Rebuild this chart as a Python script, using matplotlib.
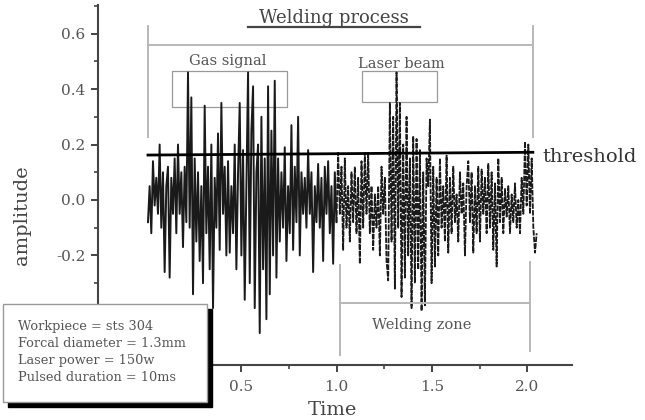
import numpy as np
import matplotlib
matplotlib.use('Agg')
import matplotlib.pyplot as plt
from matplotlib.patches import Rectangle
from matplotlib.ticker import MultipleLocator

plt.rcParams['font.family'] = ['DejaVu Serif']

# signal amplitude (peaks and troughs, left to right)
amplitude = [
    -0.08, 0.05, -0.12, 0.14, -0.02, 0.08,
    -0.05, 0.20, -0.10, 0.10, -0.26, 0.05,
    0.12, -0.28, 0.08, -0.05, 0.15, -0.12,
    0.20, -0.05, 0.10, -0.17, 0.12, -0.08,
    0.46, -0.10, 0.37, -0.34, 0.15, -0.15,
    0.10, -0.22, 0.05, -0.30, 0.34, -0.12,
    0.12, -0.25, 0.20, -0.39, 0.08, -0.10,
    0.24, -0.18, 0.35, -0.05, 0.12, -0.20,
    0.14, -0.19, 0.05, -0.12, 0.20, -0.25,
    0.10, 0.35, -0.20, 0.18, -0.36, 0.05,
    0.46, -0.30, 0.25, 0.41, -0.39, 0.10,
    0.20, -0.48, 0.30, -0.25, 0.15, -0.43,
    0.41, -0.34, 0.25, -0.20, 0.43, -0.28,
    0.15, -0.15, 0.10, -0.10, 0.19, -0.22,
    0.05, -0.12, 0.27, -0.18, 0.12, -0.08,
    0.30, -0.20, 0.10, -0.05, 0.08, -0.10,
    0.18, -0.05, 0.10, -0.26, 0.05, -0.08,
    0.13, -0.10, 0.08, -0.22, 0.12, -0.05,
    0.14, -0.12, 0.05, -0.23, 0.10, -0.08,
    0.17, -0.05, 0.12, -0.18, 0.15, -0.10,
    0.05, -0.15, 0.10, -0.08, 0.12, -0.12,
    0.08, -0.23, 0.14, -0.10, 0.17, -0.05,
    0.17, -0.12, 0.05, -0.18, 0.02, -0.10,
    0.05, -0.20, 0.12, -0.05, 0.08, -0.22,
    -0.29, 0.35, -0.15, 0.30, -0.32, 0.46,
    -0.10, 0.35, -0.35, 0.20, -0.28, 0.30,
    -0.20, 0.15, -0.39, 0.23, -0.30, 0.22,
    -0.25, 0.18, -0.40, 0.10, -0.38, 0.15,
    0.05, 0.29, -0.30, 0.12, -0.24, 0.08,
    -0.20, 0.15, -0.10, 0.05, -0.15, 0.16,
    -0.19, 0.08, -0.12, 0.12, -0.08, 0.02,
    -0.15, 0.10, -0.05, 0.06, -0.20, 0.05,
    0.14, -0.08, 0.10, -0.19, 0.05, -0.12,
    0.12, -0.15, 0.11, -0.05, 0.08, -0.12,
    0.13, -0.10, 0.10, -0.18, 0.06, -0.24,
    0.15, -0.08, 0.08, -0.12, 0.04, -0.06,
    0.05, -0.12, 0.02, -0.08, 0.06, -0.10,
    0.00, -0.12, 0.08, -0.05, 0.21, -0.02,
    0.20, -0.05, 0.15, -0.10, -0.19, -0.12,
]
t_start, t_end = 0.01, 2.05
threshold_t = [0.01, 2.03]
threshold_v = [0.162, 0.172]

xticks = [0.0, 0.5, 1.0, 1.5, 2.0]
xtick_labels = ['', '0.5', '1.0', '1.5', '2.0']   # 0.0 sits under the info box
yticks = [-0.4, -0.2, 0.0, 0.2, 0.4, 0.6]
ytick_labels = ['', '-0.2', '0.0', '0.2', '0.4', '0.6']

info_lines = ['Workpiece = sts 304', 'Forcal diameter = 1.3mm',
              'Laser power = 150w', 'Pulsed duration = 10ms']

time = np.linspace(t_start, t_end, len(amplitude))
amp = np.array(amplitude)

fig = plt.figure(figsize=(6.45, 4.2), dpi=100)
ax = fig.add_axes([0.152, 0.131, 0.735, 0.857])

# first part solid, welding zone part drawn dashed like the original
split = time <= 1.0
ax.plot(time[split], amp[split], color='#1a1a1a', lw=1.4)
k = np.argmax(~split)
ax.plot(time[k - 1:], amp[k - 1:], color='#1a1a1a', lw=1.3, ls=(0, (3, 0.7)))

ax.plot(threshold_t, threshold_v, color='black', lw=2)
ax.text(2.08, 0.155, 'threshold', fontsize=14, color='#333333', va='center',
        ha='left', clip_on=False)

gray = '#b8b8b8'
# welding process bracket
ax.plot([0.01, 2.02], [0.558, 0.558], color=gray, lw=1.4)
ax.plot([0.01, 0.01], [0.627, 0.227], color=gray, lw=1.4)
ax.plot([2.03, 2.03], [0.627, 0.227], color=gray, lw=1.4)
ax.text(0.987, 0.655, 'Welding process', fontsize=13, color='#444444',
        ha='center', va='center')
ax.plot([0.535, 1.438], [0.625, 0.625], color='#444444', lw=1.6)

# boxes around the peaks
ax.add_patch(Rectangle((0.136, 0.335), 0.604, 0.13, fill=False, ec='#999999', lw=0.9))
ax.add_patch(Rectangle((1.134, 0.353), 0.394, 0.112, fill=False, ec='#999999', lw=0.9))
ax.text(0.43, 0.50, 'Gas signal', fontsize=10.5, color='#555555', ha='center', va='center')
ax.text(1.34, 0.49, 'Laser beam', fontsize=10.5, color='#555555', ha='center', va='center')

# welding zone bracket
ax.plot([1.018, 2.016], [-0.371, -0.371], color=gray, lw=1.4)
ax.plot([1.018, 1.018], [-0.234, -0.559], color=gray, lw=1.4)
ax.plot([2.016, 2.016], [-0.225, -0.545], color=gray, lw=1.4)
ax.text(1.449, -0.45, 'Welding zone', fontsize=10.5, color='#555555', ha='center', va='center')

ax.set_xlim(-0.252, 2.236)
ax.set_ylim(-0.595, 0.703)
for s in ['top', 'right']:
    ax.spines[s].set_visible(False)
for s in ['left', 'bottom']:
    ax.spines[s].set_color('#444444')
    ax.spines[s].set_linewidth(1.5)
ax.set_xticks(xticks)
ax.set_xticklabels(xtick_labels)
ax.set_yticks(yticks)
ax.set_yticklabels(ytick_labels)
ax.xaxis.set_minor_locator(MultipleLocator(0.25))
ax.yaxis.set_minor_locator(MultipleLocator(0.1))
ax.tick_params(which='major', length=5, width=1.4, color='#444444',
               labelsize=11, labelcolor='#555555')
ax.tick_params(which='minor', length=3, width=1.2, color='#444444')
ax.tick_params(axis='y', pad=4)
ax.tick_params(axis='x', pad=6)

fig.text(0.034, 0.488, 'amplitude', rotation=90, fontsize=14, color='#444444',
         ha='center', va='center')
fig.text(0.516, 1 - 419 / 420, 'Time', fontsize=14, color='#444444',
         ha='center', va='bottom')

# info box with black shadow
W, H = 645, 420
shadow = Rectangle((8 / W, 1 - 407 / H), 204 / W, 98 / H, transform=fig.transFigure,
                   facecolor='black', edgecolor='black', zorder=5)
box = Rectangle((3 / W, 1 - 402 / H), 204 / W, 98 / H, transform=fig.transFigure,
                facecolor='white', edgecolor='#999999', lw=1, zorder=6)
fig.add_artist(shadow)
fig.add_artist(box)
fig.text(18 / W, 1 - 320 / H, '\n'.join(info_lines), fontsize=9.3, color='#555555',
         ha='left', va='top', linespacing=1.4, zorder=7)

fig.savefig('out.png', dpi=100)
